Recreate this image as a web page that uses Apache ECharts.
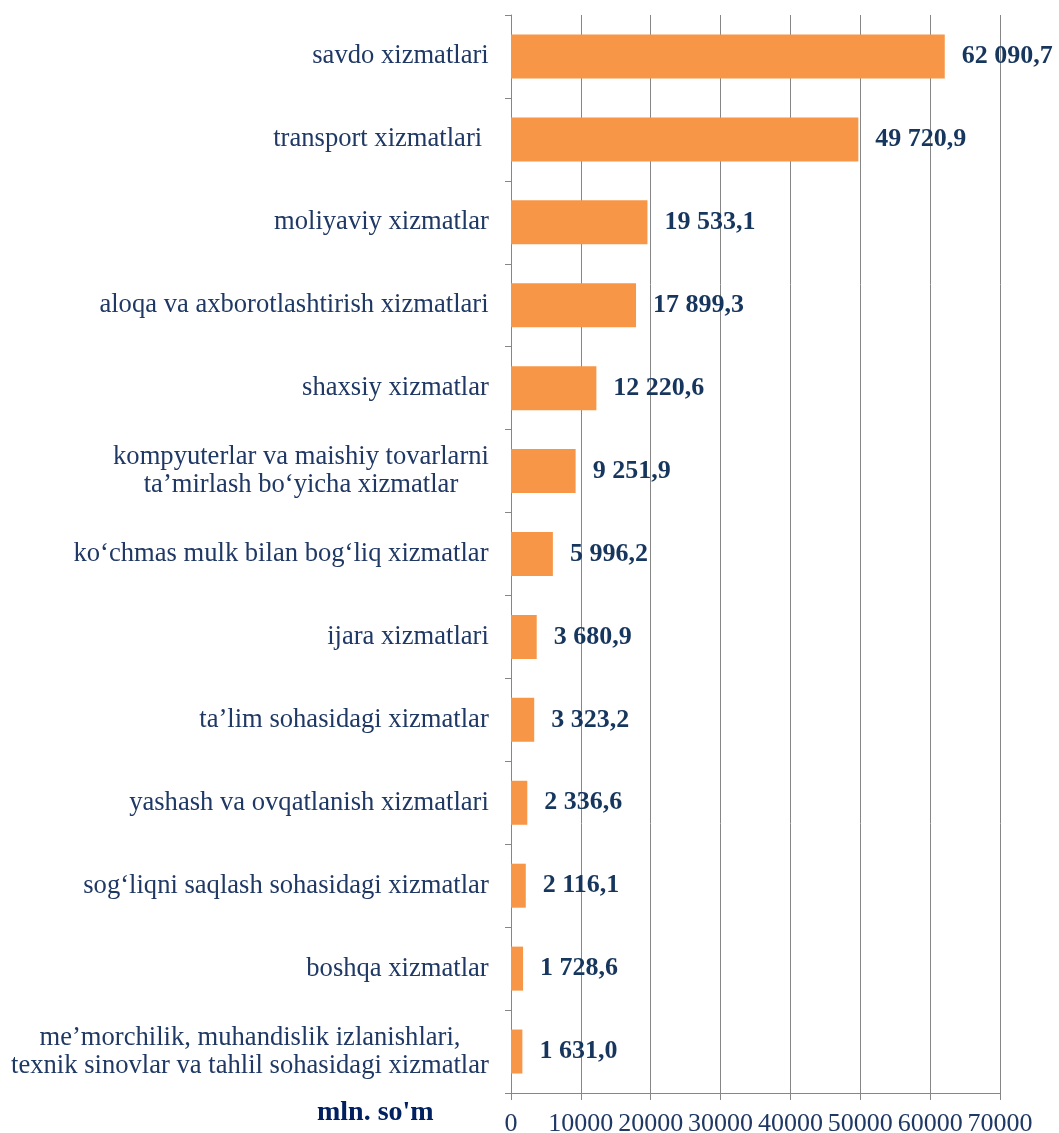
<!DOCTYPE html>
<html lang="uz">
<head>
    <meta charset="UTF-8">
    <title>Xizmatlar</title>
    <style>
        html, body {
            margin: 0;
            padding: 0;
            background: white;
        }

        #chart {
            width: 1059px;
            height: 1133px;
        }
    </style>
    <script src="https://cdn.jsdelivr.net/npm/echarts@6/dist/echarts.min.js"></script>
</head>
<body>
<div id="chart"></div>
<script>
    // kategoriyalar (yuqoridan pastga)
    const categories = [
        'savdo xizmatlari',
        'transport xizmatlari ',
        'moliyaviy xizmatlar',
        'aloqa va axborotlashtirish xizmatlari',
        'shaxsiy xizmatlar',
        'kompyuterlar va maishiy tovarlarni\nta’mirlash bo‘yicha xizmatlar',
        'ko‘chmas mulk bilan bog‘liq xizmatlar',
        'ijara xizmatlari',
        'ta’lim sohasidagi xizmatlar',
        'yashash va ovqatlanish xizmatlari',
        'sog‘liqni saqlash sohasidagi xizmatlar',
        'boshqa xizmatlar',
        'me’morchilik, muhandislik izlanishlari,\ntexnik sinovlar va tahlil sohasidagi xizmatlar'
    ];
    const values = [62090.7, 49720.9, 19533.1, 17899.3, 12220.6, 9251.9, 5996.2, 3680.9, 3323.2, 2336.6, 2116.1, 1728.6, 1631.0];
    const unitText = "mln. so'm";

    const font = '"Liberation Serif", "Times New Roman", serif';
    const labelSize = 26.6;
    const gray = '#868686';

    // 62090.7 -> "62 090,7"
    function fmt(v) {
        let parts = v.toFixed(1).split('.');
        let int = parts[0].replace(/\B(?=(\d{3})+(?!\d))/g, ' ');
        return int + ',' + parts[1];
    }

    // ko'p qatorli yozuvlar markazlashtiriladi: har bir yozuv uchun alohida rich uslub
    const ctx = document.createElement('canvas').getContext('2d');
    ctx.font = labelSize + 'px ' + font;
    const rich = {};
    categories.forEach((c, i) => {
        let lines = c.split('\n');
        let w = Math.max.apply(null, lines.map(s => ctx.measureText(s).width));
        rich['c' + i] = {
            width: Math.ceil(w),
            align: 'center',
            color: '#1F3864',
            fontFamily: font,
            fontSize: labelSize,
            lineHeight: 28
        };
    });

    let chart = echarts.init(document.getElementById('chart'), null, {renderer: 'canvas'});
    chart.setOption({
        animation: false,
        backgroundColor: '#ffffff',
        grid: {left: 511, right: 59, top: 15, bottom: 40, outerBoundsMode: 'none', containLabel: false},
        xAxis: {
            type: 'value',
            min: 0,
            max: 70000,
            interval: 10000,
            axisLine: {show: true, lineStyle: {color: gray, width: 1}},
            axisTick: {show: true, length: 7, lineStyle: {color: gray}},
            splitLine: {show: true, lineStyle: {color: gray, width: 1}},
            axisLabel: {
                margin: 18,
                color: '#1F3864',
                fontFamily: font,
                fontSize: 26,
                formatter: (v) => String(v)
            }
        },
        yAxis: {
            type: 'category',
            data: categories,
            inverse: true,
            axisLine: {show: true, lineStyle: {color: gray, width: 1}},
            axisTick: {show: true, length: 6, lineStyle: {color: gray}},
            axisLabel: {
                margin: 22,
                color: '#1F3864',
                fontFamily: font,
                fontSize: labelSize,
                lineHeight: 28,
                formatter: function (val, idx) {
                    return val.split('\n').map(s => '{c' + idx + '|' + s + '}').join('\n');
                },
                rich: rich
            }
        },
        series: [{
            type: 'bar',
            data: values,
            barWidth: 44,
            itemStyle: {color: '#F79646'},
            label: {
                show: true,
                position: 'right',
                distance: 17,
                color: '#17365D',
                fontFamily: font,
                fontWeight: 'bold',
                fontSize: 26,
                formatter: (p) => fmt(p.value)
            }
        }],
        graphic: [{
            type: 'text',
            left: 317,
            top: 1099,
            style: {
                text: unitText,
                fill: '#002060',
                font: 'bold 28px ' + font
            }
        }]
    });
</script>
</body>
</html>
